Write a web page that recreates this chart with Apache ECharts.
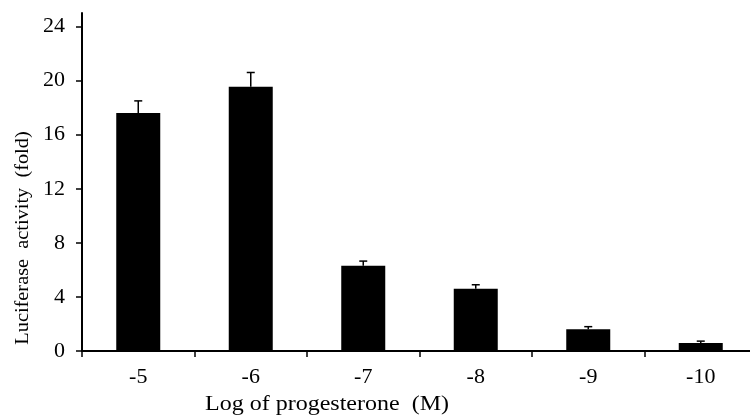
<!DOCTYPE html>
<html>
<head>
<meta charset="utf-8">
<script src="https://cdn.jsdelivr.net/npm/echarts@6/dist/echarts.min.js"></script>
<style>
  html, body { margin: 0; padding: 0; background: #fff; }
  #chart { width: 750px; height: 418px; }
</style>
</head>
<body>
<div id="chart"></div>
<script>
// data
const categories = ['-5', '-6', '-7', '-8', '-9', '-10'];
const means = [17.6, 19.55, 6.3, 4.6, 1.6, 0.6];
const errors = [0.9, 1.05, 0.35, 0.3, 0.2, 0.13];
const yTicks = [0, 4, 8, 12, 16, 20, 24];

const font = 'Liberation Serif';
const chart = echarts.init(document.getElementById('chart'));

chart.setOption({
  animation: false,
  // axis runs a little past the right edge of the picture
  grid: { left: 82, width: 675, top: 13, bottom: 67, outerBoundsMode: 'none', containLabel: false },
  xAxis: {
    type: 'category',
    data: categories,
    axisLine: { lineStyle: { color: '#000', width: 2 } },
    axisTick: { show: true, length: 6, lineStyle: { color: '#000', width: 1.5 } },
    axisLabel: { color: '#000', fontFamily: font, fontSize: 22, margin: 15 }
  },
  yAxis: {
    type: 'value',
    min: 0,
    max: 25,
    interval: 4,
    splitLine: { show: false },
    axisLine: { show: true, lineStyle: { color: '#000', width: 2 } },
    axisTick: { show: true, length: 6, customValues: yTicks, lineStyle: { color: '#000', width: 1.5 } },
    axisLabel: { color: '#000', fontFamily: font, fontSize: 22, margin: 17, customValues: yTicks }
  },
  graphic: [
    {
      type: 'text',
      x: 23,
      y: 238,
      rotation: Math.PI / 2,
      scaleX: 1.07,
      style: {
        text: 'Luciferase  activity  (fold)',
        font: '19px "Liberation Serif"',
        fill: '#000',
        align: 'center',
        verticalAlign: 'middle'
      }
    },
    {
      type: 'text',
      x: 327,
      y: 405,
      scaleX: 1.2,
      style: {
        text: 'Log of progesterone  (M)',
        font: '20px "Liberation Serif"',
        fill: '#000',
        align: 'center',
        verticalAlign: 'middle'
      }
    }
  ],
  series: [
    {
      type: 'bar',
      data: means,
      barWidth: 44,
      itemStyle: { color: '#000' }
    },
    {
      type: 'custom',
      z: 1,
      data: means.map((m, i) => [i, m, m + errors[i]]),
      renderItem: function (params, api) {
        const base = api.coord([api.value(0), api.value(1)]);
        const top = api.coord([api.value(0), api.value(2)]);
        const half = 4;
        return {
          type: 'group',
          children: [
            {
              type: 'line',
              shape: { x1: base[0], y1: base[1], x2: top[0], y2: top[1] },
              style: { stroke: '#000', lineWidth: 1.5 }
            },
            {
              type: 'line',
              shape: { x1: top[0] - half, y1: top[1], x2: top[0] + half, y2: top[1] },
              style: { stroke: '#000', lineWidth: 1.5 }
            }
          ]
        };
      }
    }
  ]
});
</script>
</body>
</html>
